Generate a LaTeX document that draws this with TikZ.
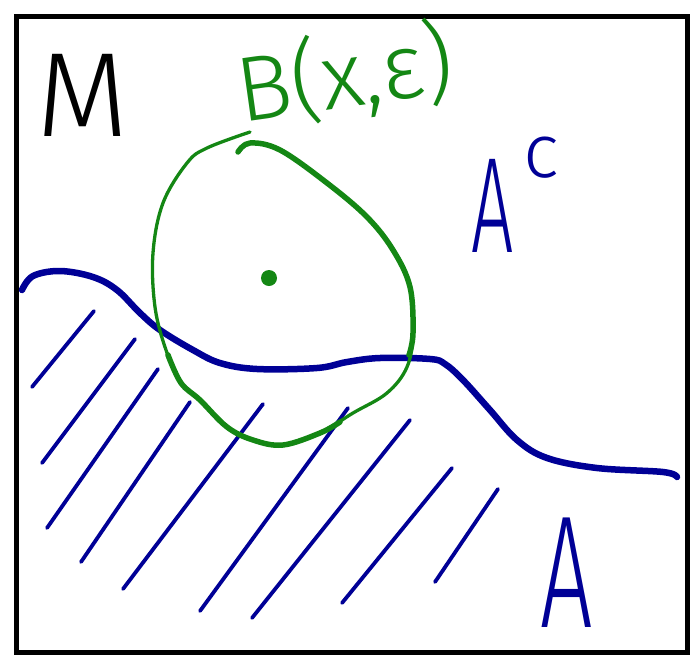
\documentclass[tikz,border=0pt]{standalone}
\usepackage{fontspec}
\newfontfamily\handfont{Fira Sans Light}
\definecolor{inkgreen}{RGB}{20,135,20}
\definecolor{inkblue}{RGB}{0,0,150}
\begin{document}
\begin{tikzpicture}[x=1pt,y=-1pt,
  frame/.style={draw=black,line width=5pt},
  boundary/.style={draw=inkblue,line width=6.5pt,line cap=round,line join=round},
  hatchline/.style={draw=inkblue,line width=3.8pt,line cap=round},
  ballthin/.style={draw=inkgreen,line width=3.3pt,line cap=round,line join=round},
  ballthick/.style={draw=inkgreen,line width=5.5pt,line cap=round,line join=round},
  lbl/.style={inner sep=0pt,outer sep=0pt,font=\handfont}]
\useasboundingbox (0,0) rectangle (696,654);
\draw[frame] (16,16.5) rectangle (687,652);
% boundary curve between A and A^c
\draw[boundary] plot[smooth,tension=0.6] coordinates {(22,290) (33,276) (60,271) (93,277) (117,290) (140,313) (160,330) (193,350) (220,363) (257,369) (317,368) (347,362) (380,358) (430,359) (445,364) (463,380) (490,410) (517,440) (547,458) (597,468) (663,472) (677,477)};
% hatching of A
\foreach \a/\b in {{(94,311)}/{(32,387)},{(135,339)}/{(42,463)},{(158,369)}/{(47,528)},{(190,402)}/{(81,562)},{(263,404)}/{(123,589)},{(348,408)}/{(200,611)},{(410,420)}/{(252,618)},{(452,468)}/{(342,603)},{(498,489)}/{(435,582)}}
  \draw[hatchline] \a -- \b;
% ball B(x,eps)
\draw[ballthin] plot[smooth,tension=0.6] coordinates {(238,152) (250,143) (280,150) (327,183) (367,217) (393,250) (410,287) (413,333) (407,367) (387,393) (353,413) (320,433) (283,445) (253,440) (227,427) (200,400) (181,383) (166,350) (155,307) (153,253) (163,203) (187,163) (207,148) (250,132)};
\draw[ballthick] plot[smooth,tension=0.6] coordinates {(238,152) (250,143) (280,150) (327,183) (367,217) (393,250) (410,287) (413,333) (409,355)};
\draw[ballthick] plot[smooth,tension=0.6] coordinates {(340,422) (320,433) (283,445) (253,440) (227,427) (200,400) (181,383) (168,355)};
\fill[inkgreen] (269,278) circle (8);
% labels
\node[lbl,anchor=base west,text=black] (M) at (36,136) {\fontsize{120}{120}\selectfont M};
\node[lbl,anchor=base west,text=inkgreen,rotate=8] (ball) at (241,122) {\fontsize{92}{92}\selectfont B(x,ε)};
\node[lbl,anchor=base west,text=inkblue] (Ac) at (471,252) {\fontsize{136}{136}\selectfont\scalebox{0.55}[1]{A}\hspace{10pt}\raise 75pt\hbox{\fontsize{76}{76}\selectfont c}};
\node[lbl,anchor=base west,text=inkblue] (A) at (540,627) {\fontsize{160}{160}\selectfont\scalebox{0.58}[1]{A}};
\end{tikzpicture}
\end{document}
